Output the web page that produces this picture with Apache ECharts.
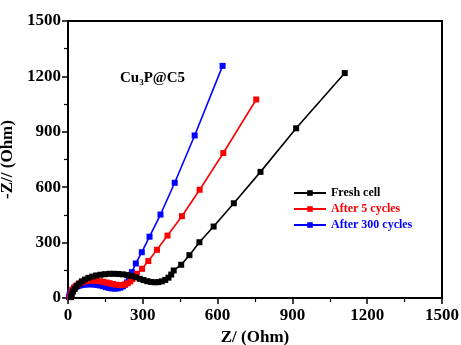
<!DOCTYPE html>
<html>
<head>
<meta charset="utf-8">
<script src="https://cdn.jsdelivr.net/npm/echarts@6/dist/echarts.min.js"></script>
<style>
  html, body { margin: 0; padding: 0; background: #fff; }
  #chart { width: 461px; height: 345px; }
</style>
</head>
<body>
<div id="chart"></div>
<script>
// Nyquist plots of the Cu3P@C5 electrode: [Z' (Ohm), -Z'' (Ohm)]
const freshCell = [
  [12, 5], [15, 20], [20, 35], [27, 50], [35, 65], [45, 78], [56, 90], [68, 100],
  [82, 109], [97, 116], [113, 122], [130, 126], [148, 129], [166, 131], [184, 131],
  [202, 130], [220, 128], [238, 124], [255, 119], [272, 112], [288, 104], [303, 97],
  [318, 91], [333, 87], [348, 85], [362, 86], [376, 90], [390, 98], [403, 110],
  [414, 127], [424, 149], [454, 180], [487, 232], [527, 302], [584, 387],
  [665, 513], [772, 683], [915, 919], [1110, 1218]
];
const after5Cycles = [
  [8, 5], [10, 18], [14, 32], [19, 45], [26, 57], [34, 68], [43, 77], [53, 84],
  [64, 89], [76, 92], [89, 94], [102, 94], [115, 93], [128, 91], [141, 88],
  [154, 84], [167, 80], [180, 76], [193, 72], [206, 70], [218, 70], [229, 73],
  [240, 80], [250, 90], [258, 103], [266, 116], [276, 131], [297, 158],
  [322, 200], [357, 261], [399, 338], [457, 443], [528, 586], [623, 785],
  [755, 1075]
];
const after300Cycles = [
  [4, 5], [6, 15], [9, 25], [13, 35], [18, 44], [24, 52], [31, 59], [39, 64],
  [48, 68], [58, 71], [69, 73], [80, 74], [92, 74], [104, 73], [116, 71],
  [128, 68], [140, 64], [152, 59], [164, 55], [176, 52], [188, 51], [199, 52],
  [210, 56], [220, 63], [229, 72], [237, 84], [244, 98], [250, 115], [256, 140],
  [272, 187], [296, 248], [327, 332], [371, 452], [428, 624], [508, 880],
  [620, 1257]
];
const seriesNames = ['Fresh cell', 'After 5 cycles', 'After 300 cycles'];
const seriesColors = ['#000000', '#ff0000', '#0000ff'];
const axisTicks = [0, 300, 600, 900, 1200, 1500];

const serif = '"Times New Roman", "Liberation Serif", "DejaVu Serif", serif';
const chart = echarts.init(document.getElementById('chart'), null, { renderer: 'canvas' });

function axisCommon(name, nameGap, labelMargin) {
  return {
    type: 'value',
    min: axisTicks[0],
    max: axisTicks[axisTicks.length - 1],
    interval: axisTicks[1] - axisTicks[0],
    name: name,
    nameLocation: 'middle',
    nameGap: nameGap,
    nameTextStyle: { fontFamily: serif, fontWeight: 'bold', fontSize: 17, color: '#000' },
    axisLine: { show: true, lineStyle: { color: '#000', width: 2 } },
    axisTick: { show: true, length: 6, lineStyle: { color: '#000', width: 1.5 } },
    minorTick: { show: true, splitNumber: 2, length: 4, lineStyle: { color: '#000', width: 1.2 } },
    axisLabel: {
      fontFamily: serif, fontWeight: 'bold', fontSize: 17, color: '#000', margin: labelMargin,
      formatter: function (v) { return String(v); }
    },
    splitLine: { show: false }
  };
}

const dataSets = [freshCell, after5Cycles, after300Cycles];

chart.setOption({
  animation: false,
  backgroundColor: '#fff',
  grid: {
    left: 68, right: 19, top: 21, bottom: 47,
    outerBoundsMode: 'none',
    containLabel: false,
    show: true, borderColor: '#000', borderWidth: 2, backgroundColor: 'transparent'
  },
  xAxis: axisCommon('Z/ (Ohm)', 29, 9),
  yAxis: axisCommon('-Z// (Ohm)', 40, 7),
  legend: {
    left: 288, top: 182,
    orient: 'vertical',
    itemWidth: 32, itemHeight: 7, itemGap: 4,
    data: seriesNames,
    formatter: function (n) { return '{s' + seriesNames.indexOf(n) + '|' + n + '}'; },
    textStyle: {
      fontFamily: serif, fontWeight: 'bold', fontSize: 12,
      rich: {
        s0: { color: seriesColors[0], fontFamily: serif, fontWeight: 'bold', fontSize: 12 },
        s1: { color: seriesColors[1], fontFamily: serif, fontWeight: 'bold', fontSize: 12 },
        s2: { color: seriesColors[2], fontFamily: serif, fontWeight: 'bold', fontSize: 12 }
      }
    }
  },
  graphic: [{
    type: 'text',
    left: 120, top: 71,
    style: {
      text: '{a|Cu}{b|3}{a|P@C5}',
      rich: {
        a: { fontFamily: serif, fontWeight: 'bold', fontSize: 15, fill: '#000' },
        b: { fontFamily: serif, fontWeight: 'bold', fontSize: 9, fill: '#000', padding: [9, 0, 0, 0] }
      }
    }
  }],
  series: seriesNames.map(function (name, i) {
    return {
      name: name,
      type: 'line',
      data: dataSets[i],
      symbol: 'rect',
      symbolSize: 6,
      showSymbol: true,
      lineStyle: { color: seriesColors[i], width: 1.6 },
      itemStyle: { color: seriesColors[i] },
      z: 3 - i
    };
  })
});
</script>
</body>
</html>
